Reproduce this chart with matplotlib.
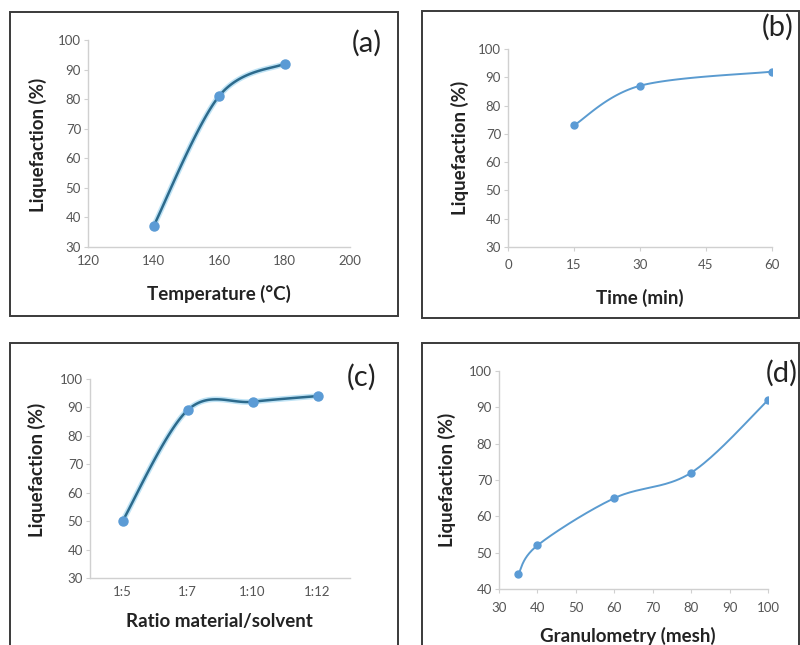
import numpy as np
import matplotlib
matplotlib.use("Agg")
import matplotlib.pyplot as plt
from matplotlib.patches import Rectangle

plt.rcParams['font.family'] = ['Lato', 'DejaVu Sans']

# data
temp_x = [140, 160, 180]
temp_y = [37, 81, 92]

time_x = [15, 30, 60]
time_y = [73, 87, 92]

ratio_labels = ['1:5', '1:7', '1:10', '1:12']
ratio_y = [50, 89, 92, 94]

mesh_x = [35, 40, 60, 80, 100]
mesh_y = [44, 52, 65, 72, 92]

W, H = 800, 645
fig = plt.figure(figsize=(8, 6.45), dpi=100)

LABEL_FS = 13.5
TICK_FS = 9.5
TAG_FS = 21


def px_axes(left, right, top, bottom):
    return fig.add_axes([left / W, 1 - bottom / H, (right - left) / W, (bottom - top) / H])


def px_text(x, y, s, **kw):
    fig.text(x / W, 1 - y / H, s, ha='center', va='center', **kw)


def box(left, right, top, bottom):
    fig.patches.append(Rectangle((left / W, 1 - bottom / H), (right - left) / W, (bottom - top) / H,
                                 transform=fig.transFigure, fill=False, edgecolor='#3a3a3a', lw=1.4))


def smooth(xs, ys, xlim, ylim, n=40):
    # Excel-like smoothed line: cubic bezier through the points, built in axes-fraction space
    px = (np.asarray(xs, float) - xlim[0]) / (xlim[1] - xlim[0])
    py = (np.asarray(ys, float) - ylim[0]) / (ylim[1] - ylim[0])
    P = np.column_stack([px, py])
    P = np.vstack([P[0], P, P[-1]])
    out = []
    t = np.linspace(0, 1, n)[:, None]
    for i in range(1, len(P) - 2):
        p0, p1 = P[i], P[i + 1]
        c1 = p0 + (P[i + 1] - P[i - 1]) / 6
        c2 = p1 - (P[i + 2] - P[i]) / 6
        seg = (1 - t) ** 3 * p0 + 3 * (1 - t) ** 2 * t * c1 + 3 * (1 - t) * t ** 2 * c2 + t ** 3 * p1
        out.append(seg)
    c = np.vstack(out)
    return c[:, 0] * (xlim[1] - xlim[0]) + xlim[0], c[:, 1] * (ylim[1] - ylim[0]) + ylim[0]


def style(ax, xticks_on=True):
    for s in ['top', 'right']:
        ax.spines[s].set_visible(False)
    for s in ['left', 'bottom']:
        ax.spines[s].set_color('#d0d0d0')
        ax.spines[s].set_linewidth(1.0)
    ax.tick_params(axis='y', colors='#d0d0d0', labelcolor='#555555', labelsize=TICK_FS, length=3, width=0.8, pad=2)
    ax.tick_params(axis='x', colors='#d0d0d0', labelcolor='#555555', labelsize=TICK_FS,
                   length=3 if xticks_on else 0, width=0.8, pad=6)
    ax.patch.set_alpha(0)


dark_line = '#2c6a8c'
light_line = '#5a9bd0'
marker_c = '#5b9bd5'
txt_c = '#222222'

# (a) temperature
box(10, 398, 12, 316)
ax = px_axes(88, 350, 40, 247)
xl, yl = (120, 200), (30, 100)
sx, sy = smooth(temp_x, temp_y, xl, yl)
ax.plot(sx, sy, color='#bfe3f5', lw=4, solid_capstyle='round')
ax.plot(sx, sy, color=dark_line, lw=1.8)
ax.plot(temp_x, temp_y, 'o', color=marker_c, ms=6.5)
ax.set_xlim(*xl)
ax.set_ylim(*yl)
ax.set_xticks([120, 140, 160, 180, 200])
ax.set_yticks(range(30, 101, 10))
style(ax, xticks_on=False)
px_text(219, 294, 'Temperature (°C)', fontsize=LABEL_FS, fontweight='bold', color=txt_c)
px_text(38, 145, 'Liquefaction (%)', fontsize=LABEL_FS, fontweight='bold', color=txt_c, rotation=90)
px_text(367, 43, '(a)', fontsize=TAG_FS, color=txt_c)

# (b) time
box(422, 799, 11, 318)
ax = px_axes(508, 772, 49, 247)
xl, yl = (0, 60), (30, 100)
sx, sy = smooth(time_x, time_y, xl, yl)
ax.plot(sx, sy, color=light_line, lw=1.4)
ax.plot(time_x, time_y, 'o', color=marker_c, ms=5)
ax.set_xlim(*xl)
ax.set_ylim(*yl)
ax.set_xticks([0, 15, 30, 45, 60])
ax.set_yticks(range(30, 101, 10))
style(ax)
px_text(640, 298, 'Time (min)', fontsize=LABEL_FS, fontweight='bold', color=txt_c)
px_text(460, 148, 'Liquefaction (%)', fontsize=LABEL_FS, fontweight='bold', color=txt_c, rotation=90)
px_text(778, 27, '(b)', fontsize=TAG_FS, color=txt_c)

# (c) ratio material/solvent
box(10, 398, 343, 660)
ax = px_axes(90, 350, 379, 578)
xpos = np.arange(len(ratio_labels))
xl, yl = (-0.5, len(ratio_labels) - 0.5), (30, 100)
sx, sy = smooth(xpos, ratio_y, xl, yl)
ax.plot(sx, sy, color='#bfe3f5', lw=4, solid_capstyle='round')
ax.plot(sx, sy, color=dark_line, lw=1.8)
ax.plot(xpos, ratio_y, 'o', color=marker_c, ms=6.5)
ax.set_xlim(*xl)
ax.set_ylim(*yl)
ax.set_xticks(xpos)
ax.set_xticklabels(ratio_labels)
ax.set_yticks(range(30, 101, 10))
style(ax, xticks_on=False)
px_text(219, 621, 'Ratio material/solvent', fontsize=LABEL_FS, fontweight='bold', color=txt_c)
px_text(37, 470, 'Liquefaction (%)', fontsize=LABEL_FS, fontweight='bold', color=txt_c, rotation=90)
px_text(362, 377, '(c)', fontsize=TAG_FS, color=txt_c)

# (d) granulometry
box(422, 799, 343, 660)
ax = px_axes(499, 768, 371, 589)
xl, yl = (30, 100), (40, 100)
sx, sy = smooth(mesh_x, mesh_y, xl, yl)
ax.plot(sx, sy, color=light_line, lw=1.4)
ax.plot(mesh_x, mesh_y, 'o', color=marker_c, ms=5)
ax.set_xlim(*xl)
ax.set_ylim(*yl)
ax.set_xticks(range(30, 101, 10))
ax.set_yticks(range(40, 101, 10))
style(ax)
px_text(628, 636, 'Granulometry (mesh)', fontsize=LABEL_FS, fontweight='bold', color=txt_c)
px_text(447, 480, 'Liquefaction (%)', fontsize=LABEL_FS, fontweight='bold', color=txt_c, rotation=90)
px_text(782, 373, '(d)', fontsize=TAG_FS, color=txt_c)

fig.savefig('out.png', dpi=100, facecolor='white')
